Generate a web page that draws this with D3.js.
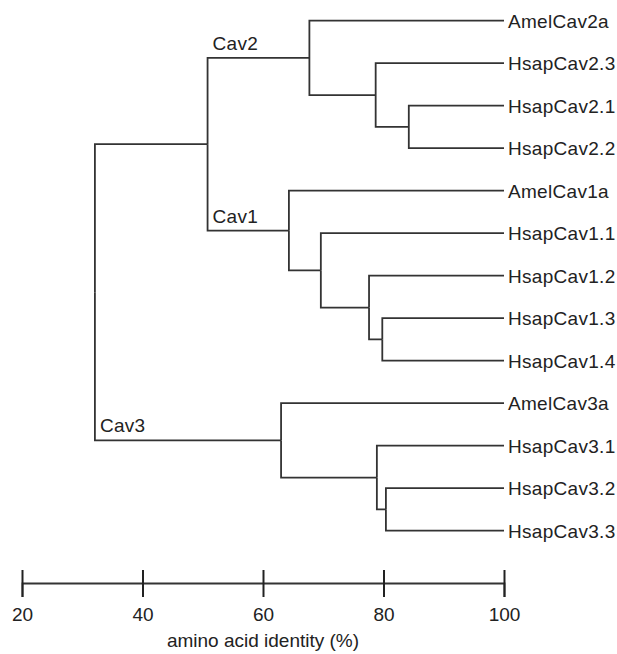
<!DOCTYPE html>
<html>
<head>
<meta charset="utf-8">
<script src="https://cdn.jsdelivr.net/npm/d3@7"></script>
<style>
  body { margin: 0; background: #fff; }
  svg text { font-family: "Liberation Sans", Arial, sans-serif; fill: #222; }
</style>
</head>
<body>
<svg id="chart" width="617" height="654"></svg>
<script>

// leaves, top to bottom
const leaves = [
    "AmelCav2a", "HsapCav2.3", "HsapCav2.1", "HsapCav2.2",
    "AmelCav1a", "HsapCav1.1", "HsapCav1.2", "HsapCav1.3", "HsapCav1.4",
    "AmelCav3a", "HsapCav3.1", "HsapCav3.2", "HsapCav3.3"
];

// internal nodes: id, parent, identity (%), clade label
const joinIds      = ["root", "c12", "cav2", "c2a", "c2b", "cav1", "c1a", "c1b", "c1c", "cav3", "c3a", "c3b"];
const joinParents  = [null,   "root", "c12", "cav2", "c2a", "c12", "cav1", "c1a", "c1b", "root", "cav3", "c3a"];
const joinIdentity = [32.1,   50.8,  67.7,   78.7,  84.2,  64.3,   69.6,  77.6,  79.8,  63.0,   78.9,  80.4];
const joinLabels   = ["",     "",    "Cav2", "",    "",    "Cav1", "",    "",    "",    "Cav3", "",    ""];

// parent of each leaf
const leafParents = [
    "cav2", "c2a", "c2b", "c2b",
    "cav1", "c1a", "c1b", "c1c", "c1c",
    "cav3", "c3a", "c3b", "c3b"
];
const leafIdentity = 100;

const ticks = [20, 40, 60, 80, 100];
const axisTitle = "amino acid identity (%)";

let table = joinIds.map((id, i) => ({
    id: id, parent: joinParents[i], identity: joinIdentity[i], label: joinLabels[i]
}));
leaves.forEach((name, i) => {
    table.push({ id: name, parent: leafParents[i], identity: leafIdentity, label: name });
});

const root = d3.stratify()
    .id(d => d.id)
    .parentId(d => d.parent)(table);

const x = d3.scaleLinear().domain([20, 100]).range([22, 504]);
const y = d3.scalePoint().domain(leaves).range([20.7, 530.7]);

// leaf y from scale, internal nodes midway between children
root.eachAfter(function(n) {
    n.x = x(n.data.identity);
    if (!n.children) n.y = y(n.id);
    else n.y = d3.mean(n.children, c => c.y);
});

const svg = d3.select("#chart");
const stroke = "#333";

svg.append("g")
    .attr("class", "links")
    .selectAll("path")
    .data(root.links())
    .enter().append("path")
        .attr("fill", "none")
        .attr("stroke", stroke)
        .attr("stroke-width", 1.8)
        .attr("d", d => "M" + d.source.x + "," + d.source.y + "V" + d.target.y + "H" + d.target.x);

// leaf names
svg.append("g")
    .selectAll("text")
    .data(root.leaves())
    .enter().append("text")
        .attr("x", d => d.x + 4)
        .attr("y", d => d.y)
        .attr("dy", "0.36em")
        .style("font-size", "19px")
        .style("letter-spacing", "0.3px")
        .text(d => d.data.label);

// clade labels sit above the branch, next to the parent node
svg.append("g")
    .selectAll("text")
    .data(root.descendants().filter(d => d.data.label && d.children))
    .enter().append("text")
        .attr("x", d => d.parent.x + 5)
        .attr("y", d => d.y - 8)
        .style("font-size", "19px")
        .style("letter-spacing", "0.3px")
        .text(d => d.data.label);

// axis, ticks going both ways
const axisY = 583;
const axis = svg.append("g")
    .attr("transform", "translate(0," + axisY + ")")
    .call(d3.axisBottom(x).tickValues(ticks).tickSizeOuter(0).tickSize(14).tickPadding(11));

axis.select(".domain").attr("stroke", stroke).attr("stroke-width", 1.8);
axis.selectAll(".tick line")
    .attr("y1", -13)
    .attr("y2", 14)
    .attr("stroke", "#222")
    .attr("stroke-width", 2);
axis.selectAll(".tick text")
    .attr("fill", "#222")
    .style("font-size", "19px")
    .style("font-family", "Liberation Sans, Arial, sans-serif");

svg.append("text")
    .attr("x", (x.range()[0] + x.range()[1]) / 2)
    .attr("y", 647)
    .attr("text-anchor", "middle")
    .style("font-size", "19px")
    .text(axisTitle);

</script>
</body>
</html>
